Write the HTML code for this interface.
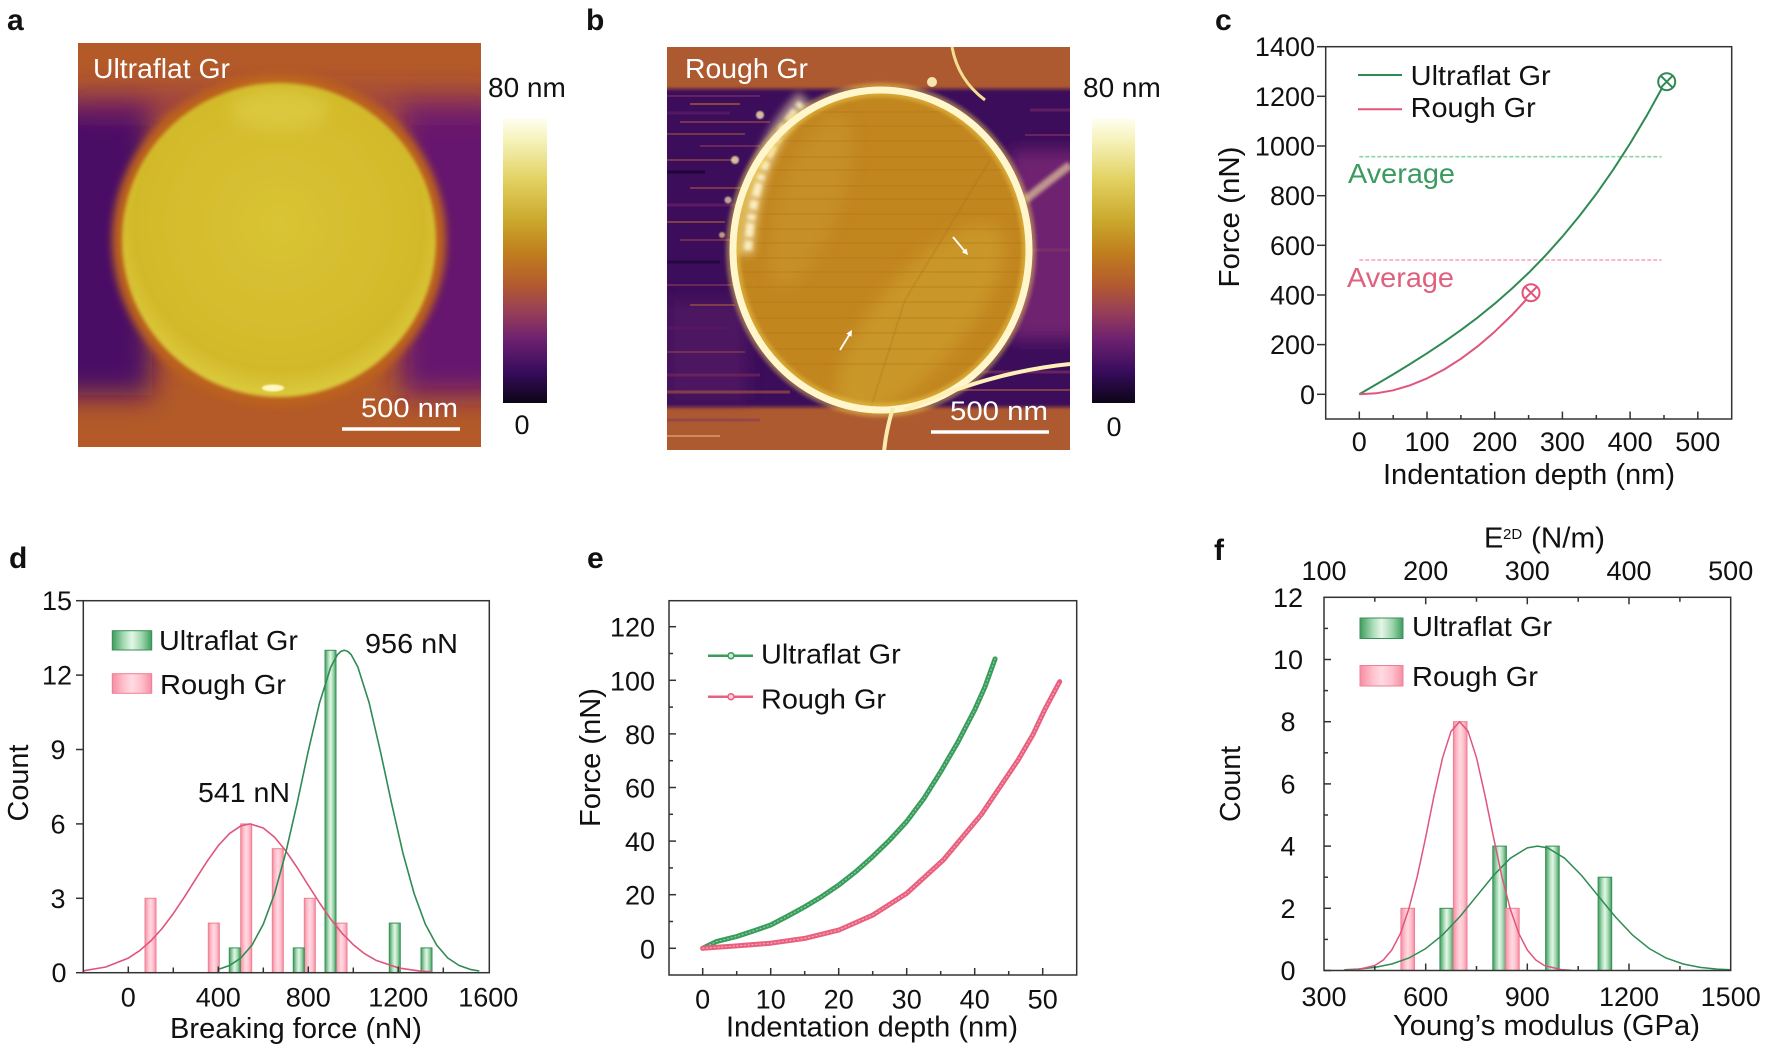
<!DOCTYPE html>
<html><head><meta charset="utf-8">
<style>html,body{margin:0;padding:0;background:#fff;}svg{display:block;}</style>
</head>
<body>
<svg xmlns="http://www.w3.org/2000/svg" width="1767" height="1053" viewBox="0 0 1767 1053" font-family="'Liberation Sans', Arial, sans-serif">
<defs>
 <linearGradient id="cbar" x1="0" y1="0" x2="0" y2="1">
  <stop offset="0" stop-color="#fffff2"/>
  <stop offset="0.08" stop-color="#f6f2b8"/>
  <stop offset="0.22" stop-color="#e2d060"/>
  <stop offset="0.36" stop-color="#caa82c"/>
  <stop offset="0.48" stop-color="#c07c1e"/>
  <stop offset="0.58" stop-color="#b45c2e"/>
  <stop offset="0.68" stop-color="#983e58"/>
  <stop offset="0.78" stop-color="#6c2070"/>
  <stop offset="0.89" stop-color="#380c5c"/>
  <stop offset="1" stop-color="#0c0418"/>
 </linearGradient>
 <linearGradient id="gbar" x1="0" y1="0" x2="1" y2="0">
  <stop offset="0" stop-color="#3f9c5e"/>
  <stop offset="0.3" stop-color="#a9dcb6"/>
  <stop offset="0.5" stop-color="#e4f6e8"/>
  <stop offset="0.75" stop-color="#9fd6ad"/>
  <stop offset="1" stop-color="#3f9c5e"/>
 </linearGradient>
 <linearGradient id="pbar" x1="0" y1="0" x2="1" y2="0">
  <stop offset="0" stop-color="#f48ea3"/>
  <stop offset="0.3" stop-color="#ffc2cd"/>
  <stop offset="0.5" stop-color="#ffdbe2"/>
  <stop offset="0.75" stop-color="#ffbfcb"/>
  <stop offset="1" stop-color="#f48ea3"/>
 </linearGradient>
 <radialGradient id="yelA" cx="0.5" cy="0.45" r="0.55">
  <stop offset="0" stop-color="#d9c434"/>
  <stop offset="0.85" stop-color="#d2b92a"/>
  <stop offset="1" stop-color="#dccb3e"/>
 </radialGradient>
 <filter id="bl14" x="-50%" y="-50%" width="200%" height="200%"><feGaussianBlur stdDeviation="14"/></filter>
 <filter id="bl8" x="-50%" y="-50%" width="200%" height="200%"><feGaussianBlur stdDeviation="8"/></filter>
 <filter id="bl4" x="-50%" y="-50%" width="200%" height="200%"><feGaussianBlur stdDeviation="4"/></filter>
 <filter id="bl2" x="-50%" y="-50%" width="200%" height="200%"><feGaussianBlur stdDeviation="1.8"/></filter>
 <filter id="bl1" x="-50%" y="-50%" width="200%" height="200%"><feGaussianBlur stdDeviation="0.9"/></filter>
 <clipPath id="clipA"><rect x="78" y="43" width="403" height="404"/></clipPath>
 <clipPath id="clipB"><rect x="667" y="47" width="403" height="403"/></clipPath>
 <clipPath id="clipBin"><ellipse cx="881" cy="250" rx="148" ry="160"/></clipPath>
</defs>

<rect x="0" y="0" width="1767" height="1053" fill="#ffffff"/>

<!-- Panel letters -->
<g font-weight="bold" font-size="30" fill="#111">
 <text x="7" y="30">a</text>
 <text x="586" y="30">b</text>
 <text x="1215" y="30">c</text>
 <text x="9" y="568">d</text>
 <text x="587" y="568">e</text>
 <text x="1214" y="560">f</text>
</g>

<!-- ============ Panel a: AFM image ============ -->
<g clip-path="url(#clipA)">
 <rect x="78" y="43" width="403" height="404" fill="#b35a28"/>
 <g filter="url(#bl14)">
  <rect x="40" y="100" width="112" height="295" fill="#4a0866"/>
  <rect x="400" y="100" width="110" height="295" fill="#66146e"/>
  <rect x="70" y="92" width="420" height="24" fill="#8a2e60" opacity="0.6"/>
 </g>
 <circle cx="279" cy="240" r="167" fill="#bc621f" filter="url(#bl4)"/>
 <circle cx="279" cy="240" r="157" fill="url(#yelA)" filter="url(#bl2)"/>
 <ellipse cx="279" cy="110" rx="50" ry="20" fill="#e2d450" opacity="0.5" filter="url(#bl8)"/>
 <ellipse cx="273" cy="388" rx="11" ry="3.5" fill="#fff8c0" filter="url(#bl1)"/>
</g>
<text x="93" y="78" font-size="28" fill="#ffffff" textLength="137" lengthAdjust="spacingAndGlyphs">Ultraflat Gr</text>
<line x1="342" y1="429" x2="460" y2="429" stroke="#ffffff" stroke-width="3.5"/>
<text x="361" y="417" font-size="27" fill="#ffffff" textLength="97" lengthAdjust="spacingAndGlyphs">500 nm</text>
<!-- colorbar a -->
<rect x="503" y="118" width="44" height="285" fill="url(#cbar)"/>
<text x="488" y="97" font-size="28" fill="#111">80 nm</text>
<text x="522" y="434" font-size="27" fill="#111" text-anchor="middle">0</text>

<!-- ============ Panel b: AFM image ============ -->
<g clip-path="url(#clipB)">
 <rect x="667" y="47" width="403" height="403" fill="#ad5a30"/>
 <rect x="650" y="89" width="440" height="318" fill="#3a0c5a" filter="url(#bl2)"/>
 <rect x="1010" y="150" width="80" height="190" fill="#6e2470" filter="url(#bl8)"/>
 <rect x="667" y="300" width="80" height="100" fill="#5a1a66" opacity="0.6" filter="url(#bl8)"/>
 <!-- left streaks -->
 <g stroke-linecap="butt">
  <line x1="667" y1="96" x2="760" y2="96" stroke="#7a2a60" stroke-width="2" opacity="0.7"/>
  <line x1="690" y1="104" x2="740" y2="104" stroke="#c06a30" stroke-width="2" opacity="0.6"/>
  <line x1="667" y1="113" x2="730" y2="113" stroke="#5a1a6a" stroke-width="3" opacity="0.8"/>
  <line x1="680" y1="122" x2="770" y2="122" stroke="#a04a50" stroke-width="2" opacity="0.6"/>
  <line x1="667" y1="134" x2="745" y2="134" stroke="#c87a30" stroke-width="1.5" opacity="0.5"/>
  <line x1="700" y1="146" x2="760" y2="146" stroke="#8a3a60" stroke-width="2" opacity="0.6"/>
  <line x1="667" y1="160" x2="735" y2="160" stroke="#b0603a" stroke-width="2" opacity="0.5"/>
  <line x1="667" y1="172" x2="705" y2="172" stroke="#1a0430" stroke-width="3" opacity="0.8"/>
  <line x1="690" y1="188" x2="750" y2="188" stroke="#a85040" stroke-width="2" opacity="0.6"/>
  <line x1="667" y1="205" x2="740" y2="205" stroke="#6a2068" stroke-width="3" opacity="0.7"/>
  <line x1="667" y1="222" x2="725" y2="222" stroke="#c07030" stroke-width="2" opacity="0.5"/>
  <line x1="680" y1="240" x2="745" y2="240" stroke="#9a4050" stroke-width="2" opacity="0.6"/>
  <line x1="667" y1="262" x2="720" y2="262" stroke="#200838" stroke-width="3" opacity="0.8"/>
  <line x1="667" y1="285" x2="740" y2="285" stroke="#8a3a5a" stroke-width="2" opacity="0.6"/>
  <line x1="690" y1="305" x2="735" y2="305" stroke="#b86a3a" stroke-width="2" opacity="0.5"/>
  <line x1="667" y1="328" x2="730" y2="328" stroke="#5a1868" stroke-width="3" opacity="0.6"/>
  <line x1="667" y1="352" x2="745" y2="352" stroke="#9a4a4a" stroke-width="2" opacity="0.5"/>
  <line x1="667" y1="375" x2="760" y2="375" stroke="#7a2a5a" stroke-width="3" opacity="0.6"/>
  <line x1="667" y1="392" x2="790" y2="392" stroke="#a85a3a" stroke-width="3" opacity="0.6"/>
  <line x1="1030" y1="110" x2="1070" y2="110" stroke="#7a2a6a" stroke-width="3" opacity="0.6"/>
  <line x1="1025" y1="135" x2="1070" y2="135" stroke="#9a3a60" stroke-width="2" opacity="0.5"/>
  <line x1="1030" y1="250" x2="1070" y2="250" stroke="#8a3a6a" stroke-width="3" opacity="0.5"/>
  <line x1="960" y1="372" x2="1070" y2="372" stroke="#7a3060" stroke-width="3" opacity="0.7"/>
  <line x1="940" y1="390" x2="1070" y2="390" stroke="#b05a40" stroke-width="2" opacity="0.6"/>
  <line x1="667" y1="420" x2="760" y2="420" stroke="#8a3a58" stroke-width="3" opacity="0.6"/>
  <line x1="667" y1="436" x2="720" y2="436" stroke="#e0a070" stroke-width="2" opacity="0.7"/>
 </g>
 <!-- interior -->
 <ellipse cx="881" cy="250" rx="148" ry="160" fill="#c2861f"/>
 <g clip-path="url(#clipBin)">
  <ellipse cx="920" cy="320" rx="45" ry="120" fill="#d0a432" opacity="0.55" transform="rotate(40 920 320)" filter="url(#bl8)"/>
  <ellipse cx="810" cy="200" rx="30" ry="90" fill="#cda035" opacity="0.4" transform="rotate(20 810 200)" filter="url(#bl8)"/>
  <g stroke="#a86a18" stroke-width="1.2" opacity="0.35">
   <line x1="720" y1="112" x2="1040" y2="112"/><line x1="720" y1="126" x2="1040" y2="126"/>
   <line x1="720" y1="141" x2="1040" y2="141"/><line x1="720" y1="157" x2="1040" y2="157"/>
   <line x1="720" y1="170" x2="1040" y2="170"/><line x1="720" y1="186" x2="1040" y2="186"/>
   <line x1="720" y1="199" x2="1040" y2="199"/><line x1="720" y1="214" x2="1040" y2="214"/>
   <line x1="720" y1="229" x2="1040" y2="229"/><line x1="720" y1="243" x2="1040" y2="243"/>
   <line x1="720" y1="258" x2="1040" y2="258"/><line x1="720" y1="272" x2="1040" y2="272"/>
   <line x1="720" y1="287" x2="1040" y2="287"/><line x1="720" y1="302" x2="1040" y2="302"/>
   <line x1="720" y1="318" x2="1040" y2="318"/><line x1="720" y1="333" x2="1040" y2="333"/>
   <line x1="720" y1="349" x2="1040" y2="349"/><line x1="720" y1="364" x2="1040" y2="364"/>
  </g>
  <path d="M870 410 L905 300 L990 160" stroke="#a87018" stroke-width="2" fill="none" opacity="0.25"/>
 </g>
 <!-- debris (fuzzy) -->
 <path d="M745 255 Q 752 150 805 98" stroke="#f6e6a8" stroke-width="18" fill="none" opacity="0.55" filter="url(#bl4)"/>
 <path d="M748 250 Q 754 155 803 102" stroke="#fff6d0" stroke-width="8" fill="none" stroke-dasharray="9 4 14 3 6 5" opacity="0.85" filter="url(#bl2)"/>
 <circle cx="735" cy="160" r="4" fill="#f8e8b0" opacity="0.8" filter="url(#bl1)"/>
 <circle cx="728" cy="200" r="3.5" fill="#f8e8b0" opacity="0.7" filter="url(#bl1)"/>
 <circle cx="760" cy="115" r="4" fill="#f8e8b0" opacity="0.8" filter="url(#bl1)"/>
 <circle cx="722" cy="235" r="3" fill="#f0d890" opacity="0.7" filter="url(#bl1)"/>
 <path d="M1025 200 Q 1050 180 1070 165" stroke="#f4e4a0" stroke-width="8" fill="none" opacity="0.6" filter="url(#bl2)"/>
 <!-- ring -->
 <ellipse cx="881" cy="250" rx="148" ry="160" fill="none" stroke="#f0d050" stroke-width="14" opacity="0.45" filter="url(#bl2)"/>
 <ellipse cx="881" cy="250" rx="148" ry="160" fill="none" stroke="#fff6cc" stroke-width="7"/>
 <!-- extra lines -->
 <path d="M952 47 Q 958 80 985 100" stroke="#f2e090" stroke-width="3" fill="none"/>
 <path d="M905 410 Q 990 372 1070 364" stroke="#fff0b8" stroke-width="4" fill="none"/>
 <path d="M893 408 Q 886 430 884 452" stroke="#f8eab0" stroke-width="4" fill="none"/>
 <circle cx="932" cy="82" r="5" fill="#fff4c0" opacity="0.9"/>
</g>
<!-- arrows -->
<line x1="953" y1="237" x2="965" y2="251.5" stroke="#ffffff" stroke-width="1.8"/>
<polygon points="968,255 961.9,252.3 966.5,248.5" fill="#ffffff"/>
<line x1="840" y1="350" x2="849.5" y2="334.5" stroke="#ffffff" stroke-width="1.8"/>
<polygon points="852,330 851.5,336.7 846.3,333.6" fill="#ffffff"/>
<text x="685" y="78" font-size="28" fill="#ffffff" textLength="123" lengthAdjust="spacingAndGlyphs">Rough Gr</text>
<line x1="931" y1="432" x2="1049" y2="432" stroke="#ffffff" stroke-width="3.5"/>
<text x="950" y="420" font-size="27" fill="#ffffff" textLength="98" lengthAdjust="spacingAndGlyphs">500 nm</text>
<!-- colorbar b -->
<rect x="1092" y="118" width="43" height="285" fill="url(#cbar)"/>
<text x="1083" y="97" font-size="28" fill="#111">80 nm</text>
<text x="1114" y="436" font-size="27" fill="#111" text-anchor="middle">0</text>

<!-- ============ Panel c ============ -->
<g>
 <line x1="1359.3" y1="156.7" x2="1661.7" y2="156.7" stroke="#8fd4a6" stroke-width="1.6" stroke-dasharray="4 2"/>
 <line x1="1359.3" y1="260" x2="1661.7" y2="260" stroke="#f4a2b6" stroke-width="1.6" stroke-dasharray="4 2"/>
 <path d="M1359.3,394.3 L1376.2,384.4 L1393.2,374.4 L1410.1,364.0 L1427.0,353.3 L1443.9,342.1 L1460.9,330.1 L1477.8,317.4 L1494.7,303.7 L1511.6,288.9 L1528.6,272.9 L1545.5,255.5 L1562.4,236.6 L1579.3,216.1 L1596.3,193.9 L1613.2,169.7 L1630.1,143.5 L1647.0,115.2 L1662.3,87.5" fill="none" stroke="#2f8a54" stroke-width="2" stroke-linejoin="round"/>
 <path d="M1359.3,394.3 L1376.2,393.3 L1393.2,390.3 L1410.1,385.3 L1427.0,378.4 L1443.9,369.6 L1460.9,358.8 L1477.8,346.2 L1494.7,331.7 L1511.6,315.4 L1526.6,299.3" fill="none" stroke="#e0557c" stroke-width="2" stroke-linejoin="round"/>
 <g stroke="#2f8a54" stroke-width="2" fill="none">
  <circle cx="1666.7" cy="81.7" r="8.5"/>
  <line x1="1660.7" y1="75.7" x2="1672.7" y2="87.7"/><line x1="1672.7" y1="75.7" x2="1660.7" y2="87.7"/>
 </g>
 <g stroke="#e0557c" stroke-width="2" fill="none">
  <circle cx="1531" cy="292.7" r="8.5"/>
  <line x1="1525" y1="286.7" x2="1537" y2="298.7"/><line x1="1537" y1="286.7" x2="1525" y2="298.7"/>
 </g>
 <rect x="1325.7" y="46.7" width="406" height="372.3" fill="none" stroke="#333" stroke-width="1.5"/>
 <g stroke="#333" stroke-width="1.5">
  <line x1="1317" y1="394.3" x2="1325.7" y2="394.3"/><line x1="1317" y1="344.6" x2="1325.7" y2="344.6"/>
  <line x1="1317" y1="295.0" x2="1325.7" y2="295.0"/><line x1="1317" y1="245.3" x2="1325.7" y2="245.3"/>
  <line x1="1317" y1="195.7" x2="1325.7" y2="195.7"/><line x1="1317" y1="146.0" x2="1325.7" y2="146.0"/>
  <line x1="1317" y1="96.3" x2="1325.7" y2="96.3"/><line x1="1317" y1="46.7" x2="1325.7" y2="46.7"/>
  <line x1="1359.3" y1="419" x2="1359.3" y2="411.5"/><line x1="1427.0" y1="419" x2="1427.0" y2="411.5"/>
  <line x1="1494.7" y1="419" x2="1494.7" y2="411.5"/><line x1="1562.4" y1="419" x2="1562.4" y2="411.5"/>
  <line x1="1630.1" y1="419" x2="1630.1" y2="411.5"/><line x1="1697.8" y1="419" x2="1697.8" y2="411.5"/>
  <line x1="1393.2" y1="419" x2="1393.2" y2="415"/><line x1="1460.9" y1="419" x2="1460.9" y2="415"/>
  <line x1="1528.6" y1="419" x2="1528.6" y2="415"/><line x1="1596.3" y1="419" x2="1596.3" y2="415"/>
  <line x1="1664.0" y1="419" x2="1664.0" y2="415"/>
 </g>
 <g font-size="27" fill="#111" text-anchor="end">
  <text x="1315" y="403.8">0</text><text x="1315" y="354.1">200</text>
  <text x="1315" y="304.5">400</text><text x="1315" y="254.8">600</text>
  <text x="1315" y="205.2">800</text><text x="1315" y="155.5">1000</text>
  <text x="1315" y="105.8">1200</text><text x="1315" y="56.2">1400</text>
 </g>
 <g font-size="27" fill="#111" text-anchor="middle">
  <text x="1359.3" y="451">0</text><text x="1427.0" y="451">100</text>
  <text x="1494.7" y="451">200</text><text x="1562.4" y="451">300</text>
  <text x="1630.1" y="451">400</text><text x="1697.8" y="451">500</text>
 </g>
 <text x="1529" y="484" font-size="29" fill="#111" text-anchor="middle" textLength="292" lengthAdjust="spacingAndGlyphs">Indentation depth (nm)</text>
 <text transform="translate(1239 217) rotate(-90)" font-size="29" fill="#111" text-anchor="middle" textLength="141" lengthAdjust="spacingAndGlyphs">Force (nN)</text>
 <line x1="1358" y1="75" x2="1402" y2="75" stroke="#2f8a54" stroke-width="2"/>
 <line x1="1358" y1="109.3" x2="1402" y2="109.3" stroke="#e0557c" stroke-width="2"/>
 <text x="1410.7" y="85" font-size="28" fill="#111" textLength="140" lengthAdjust="spacingAndGlyphs">Ultraflat Gr</text>
 <text x="1410.7" y="117" font-size="28" fill="#111" textLength="125" lengthAdjust="spacingAndGlyphs">Rough Gr</text>
 <text x="1348" y="183" font-size="28" fill="#3a9a5f" textLength="107" lengthAdjust="spacingAndGlyphs">Average</text>
 <text x="1347" y="287" font-size="28" fill="#e0607f" textLength="107" lengthAdjust="spacingAndGlyphs">Average</text>
</g>

<!-- ============ Panel d ============ -->
<g>
 <g stroke="#ee7f96" stroke-width="1" fill="url(#pbar)">
  <rect x="145" y="898.3" width="11" height="74.4"/>
  <rect x="208.3" y="923.1" width="11" height="49.6"/>
  <rect x="240.7" y="823.9" width="11" height="148.8"/>
  <rect x="272.3" y="848.7" width="11" height="124"/>
  <rect x="304.3" y="898.3" width="11" height="74.4"/>
  <rect x="336" y="923.1" width="11" height="49.6"/>
 </g>
 <g stroke="#3a8f58" stroke-width="1" fill="url(#gbar)">
  <rect x="229.3" y="947.9" width="11" height="24.8"/>
  <rect x="293.3" y="947.9" width="11" height="24.8"/>
  <rect x="325" y="650.3" width="11" height="322.4"/>
  <rect x="389.3" y="923.1" width="11" height="49.6"/>
  <rect x="421" y="947.9" width="11" height="24.8"/>
 </g>
 <path d="M83.3,970.8 L105.8,967.0 L128.3,958.1 L139.6,950.7 L150.8,940.9 L162.1,928.5 L173.3,913.6 L184.6,896.7 L195.8,878.9 L207.1,861.3 L218.3,845.6 L229.6,833.4 L240.8,825.9 L250.0,823.9 L263.3,828.0 L274.6,837.3 L285.8,850.9 L297.1,867.5 L308.3,885.3 L319.6,903.0 L330.8,919.2 L342.1,933.3 L353.3,944.7 L364.6,953.7 L375.8,960.2 L398.3,967.9 L420.8,971.2 L432.1,971.9" fill="none" stroke="#e0557c" stroke-width="1.6" stroke-linejoin="round"/>
 <path d="M218.3,969.4 L229.6,965.5 L240.8,958.0 L252.1,945.0 L263.3,924.1 L274.6,893.5 L285.8,852.6 L297.1,803.4 L308.3,750.9 L319.6,702.6 L330.8,666.9 L337.6,654.5 L340.9,651.4 L344.3,650.3 L347.7,651.4 L351.1,654.5 L357.8,666.9 L369.1,702.6 L380.3,750.9 L391.6,803.4 L402.8,852.6 L414.1,893.5 L425.3,924.1 L436.6,945.0 L447.8,958.0 L459.1,965.5 L470.3,969.4 L479.3,971.0" fill="none" stroke="#2f8a54" stroke-width="1.6" stroke-linejoin="round"/>
 <rect x="83.3" y="600.7" width="406" height="372" fill="none" stroke="#333" stroke-width="1.5"/>
 <g stroke="#333" stroke-width="1.5">
  <line x1="76" y1="972.7" x2="83.3" y2="972.7"/><line x1="76" y1="898.3" x2="83.3" y2="898.3"/>
  <line x1="76" y1="823.9" x2="83.3" y2="823.9"/><line x1="76" y1="749.5" x2="83.3" y2="749.5"/>
  <line x1="76" y1="675.1" x2="83.3" y2="675.1"/><line x1="76" y1="600.7" x2="83.3" y2="600.7"/>
  <line x1="128.3" y1="972.7" x2="128.3" y2="966.5"/><line x1="218.3" y1="972.7" x2="218.3" y2="966.5"/>
  <line x1="308.3" y1="972.7" x2="308.3" y2="966.5"/><line x1="398.3" y1="972.7" x2="398.3" y2="966.5"/>
  <line x1="173.3" y1="972.7" x2="173.3" y2="967.5"/><line x1="263.3" y1="972.7" x2="263.3" y2="967.5"/>
  <line x1="353.3" y1="972.7" x2="353.3" y2="967.5"/><line x1="443.3" y1="972.7" x2="443.3" y2="967.5"/>
 </g>
 <g font-size="27" fill="#111" text-anchor="middle">
  <text x="59" y="982.2">0</text><text x="58" y="907.8">3</text><text x="58" y="833.4">6</text>
  <text x="58" y="759">9</text><text x="57" y="684.6">12</text><text x="57" y="610.2">15</text>
  <text x="128.3" y="1006.7">0</text><text x="218.3" y="1006.7">400</text>
  <text x="308.3" y="1006.7">800</text><text x="398.3" y="1006.7">1200</text>
  <text x="488.3" y="1006.7">1600</text>
 </g>
 <text x="296" y="1038" font-size="29" fill="#111" text-anchor="middle" textLength="252" lengthAdjust="spacingAndGlyphs">Breaking force (nN)</text>
 <text transform="translate(28 783) rotate(-90)" font-size="29" fill="#111" text-anchor="middle" textLength="77" lengthAdjust="spacingAndGlyphs">Count</text>
 <rect x="112.3" y="630.7" width="39.4" height="19.3" fill="url(#gbar)" stroke="#3a8f58" stroke-width="1"/>
 <rect x="112.3" y="673.7" width="39.4" height="19.6" fill="url(#pbar)" stroke="#ee7f96" stroke-width="1"/>
 <text x="159" y="650" font-size="28" fill="#111" textLength="139" lengthAdjust="spacingAndGlyphs">Ultraflat Gr</text>
 <text x="160" y="694" font-size="28" fill="#111" textLength="126" lengthAdjust="spacingAndGlyphs">Rough Gr</text>
 <text x="365" y="653" font-size="28" fill="#111" textLength="93" lengthAdjust="spacingAndGlyphs">956 nN</text>
 <text x="198" y="802" font-size="28" fill="#111" textLength="92" lengthAdjust="spacingAndGlyphs">541 nN</text>
</g>

<!-- ============ Panel e ============ -->
<g>
 <g fill="none" stroke-linejoin="round" stroke-linecap="round">
  <path d="M702.7,948.3 L716.3,941.6 L736.7,936.5 L753.7,930.9 L770.7,925.0 L787.7,916.1 L804.7,906.8 L821.7,896.6 L838.7,885.1 L855.7,871.7 L872.7,856.6 L889.7,840.0 L906.7,821.5 L923.7,798.8 L940.7,771.7 L957.7,742.5 L974.7,709.8 L984.9,687.0 L995.1,658.9" stroke="#3a9c5c" stroke-width="5"/>
  <path d="M702.7,948.3 L716.3,941.6 L736.7,936.5 L753.7,930.9 L770.7,925.0 L787.7,916.1 L804.7,906.8 L821.7,896.6 L838.7,885.1 L855.7,871.7 L872.7,856.6 L889.7,840.0 L906.7,821.5 L923.7,798.8 L940.7,771.7 L957.7,742.5 L974.7,709.8 L984.9,687.0 L995.1,658.9" stroke="#86cc9c" stroke-width="1.2" stroke-dasharray="1.2 2.6"/>
  <path d="M702.7,948.3 L736.7,945.9 L770.7,943.2 L804.7,938.4 L838.7,930.1 L872.7,915.1 L906.7,893.4 L943.4,859.9 L981.5,814.3 L1018.2,759.9 L1033.2,734.1 L1044.7,709.8 L1059.7,681.6" stroke="#e8607e" stroke-width="5"/>
  <path d="M702.7,948.3 L736.7,945.9 L770.7,943.2 L804.7,938.4 L838.7,930.1 L872.7,915.1 L906.7,893.4 L943.4,859.9 L981.5,814.3 L1018.2,759.9 L1033.2,734.1 L1044.7,709.8 L1059.7,681.6" stroke="#f6a4b4" stroke-width="1.2" stroke-dasharray="1.2 2.6"/>
 </g>
 <rect x="669" y="600.7" width="407.7" height="374.3" fill="none" stroke="#333" stroke-width="1.5"/>
 <g stroke="#333" stroke-width="1.5">
  <line x1="669" y1="948.3" x2="676" y2="948.3"/><line x1="669" y1="894.7" x2="676" y2="894.7"/>
  <line x1="669" y1="841.1" x2="676" y2="841.1"/><line x1="669" y1="787.5" x2="676" y2="787.5"/>
  <line x1="669" y1="733.9" x2="676" y2="733.9"/><line x1="669" y1="680.3" x2="676" y2="680.3"/>
  <line x1="669" y1="626.7" x2="676" y2="626.7"/>
  <line x1="669" y1="921.5" x2="673" y2="921.5"/><line x1="669" y1="867.9" x2="673" y2="867.9"/>
  <line x1="669" y1="814.3" x2="673" y2="814.3"/><line x1="669" y1="760.7" x2="673" y2="760.7"/>
  <line x1="669" y1="707.1" x2="673" y2="707.1"/><line x1="669" y1="653.5" x2="673" y2="653.5"/>
  <line x1="702.7" y1="975" x2="702.7" y2="968"/><line x1="770.7" y1="975" x2="770.7" y2="968"/>
  <line x1="838.7" y1="975" x2="838.7" y2="968"/><line x1="906.7" y1="975" x2="906.7" y2="968"/>
  <line x1="974.7" y1="975" x2="974.7" y2="968"/><line x1="1042.7" y1="975" x2="1042.7" y2="968"/>
  <line x1="736.7" y1="975" x2="736.7" y2="971"/><line x1="804.7" y1="975" x2="804.7" y2="971"/>
  <line x1="872.7" y1="975" x2="872.7" y2="971"/><line x1="940.7" y1="975" x2="940.7" y2="971"/>
  <line x1="1008.7" y1="975" x2="1008.7" y2="971"/>
 </g>
 <g font-size="27" fill="#111" text-anchor="end">
  <text x="655" y="958.3">0</text><text x="655" y="904.7">20</text><text x="655" y="851.1">40</text>
  <text x="655" y="797.5">60</text><text x="655" y="743.9">80</text><text x="655" y="690.3">100</text>
  <text x="655" y="636.7">120</text>
 </g>
 <g font-size="27" fill="#111" text-anchor="middle">
  <text x="702.7" y="1008.3">0</text><text x="770.7" y="1008.3">10</text><text x="838.7" y="1008.3">20</text>
  <text x="906.7" y="1008.3">30</text><text x="974.7" y="1008.3">40</text><text x="1042.7" y="1008.3">50</text>
 </g>
 <text x="872" y="1036.7" font-size="29" fill="#111" text-anchor="middle" textLength="292" lengthAdjust="spacingAndGlyphs">Indentation depth (nm)</text>
 <text transform="translate(600 757.5) rotate(-90)" font-size="29" fill="#111" text-anchor="middle" textLength="139" lengthAdjust="spacingAndGlyphs">Force (nN)</text>
 <line x1="708" y1="655.7" x2="753" y2="655.7" stroke="#3a9c5c" stroke-width="2.5"/>
 <circle cx="731" cy="655.7" r="3" fill="#c8ecd0" stroke="#3a9c5c" stroke-width="1.5"/>
 <line x1="708" y1="696.7" x2="753" y2="696.7" stroke="#e8607e" stroke-width="2.5"/>
 <circle cx="731" cy="696.7" r="3" fill="#fcd0d8" stroke="#e8607e" stroke-width="1.5"/>
 <text x="761" y="663.3" font-size="28" fill="#111" textLength="139.7" lengthAdjust="spacingAndGlyphs">Ultraflat Gr</text>
 <text x="761" y="708.3" font-size="28" fill="#111" textLength="125" lengthAdjust="spacingAndGlyphs">Rough Gr</text>
</g>

<!-- ============ Panel f ============ -->
<g>
 <g stroke="#3a8f58" stroke-width="1" fill="url(#gbar)">
  <rect x="1439.9" y="908.3" width="13.6" height="62.2"/>
  <rect x="1492.8" y="846.1" width="13.6" height="124.4"/>
  <rect x="1545.6" y="846.1" width="13.6" height="124.4"/>
  <rect x="1598.1" y="877.2" width="13.6" height="93.3"/>
 </g>
 <g stroke="#ee7f96" stroke-width="1" fill="url(#pbar)">
  <rect x="1400.9" y="908.3" width="13.6" height="62.2"/>
  <rect x="1453.4" y="721.7" width="13.6" height="248.8"/>
  <rect x="1505.6" y="908.3" width="13.6" height="62.2"/>
 </g>
 <path d="M1344.3,969.8 L1357.9,969.1 L1374.8,967.4 L1391.8,964.0 L1408.7,958.1 L1425.7,948.6 L1442.6,934.9 L1459.6,917.0 L1476.5,896.3 L1493.5,875.5 L1510.4,858.2 L1527.3,847.9 L1537.5,846.1 L1547.7,847.9 L1564.6,858.2 L1581.6,875.5 L1598.5,896.3 L1615.5,917.0 L1632.4,934.9 L1649.3,948.6 L1666.3,958.1 L1683.2,964.0 L1700.2,967.4 L1717.1,969.1 L1730.7,969.8" fill="none" stroke="#2f8a54" stroke-width="1.5" stroke-linejoin="round"/>
 <path d="M1344.3,970.3 L1357.9,969.6 L1374.8,965.5 L1383.3,960.0 L1391.8,950.0 L1400.3,933.7 L1408.7,909.4 L1417.2,876.7 L1425.7,837.2 L1434.1,795.4 L1442.6,757.7 L1451.1,731.2 L1459.6,721.7 L1468.0,731.2 L1476.5,757.7 L1485.0,795.4 L1493.5,837.2 L1501.9,876.7 L1510.4,909.4 L1518.9,933.7 L1527.3,950.0 L1535.8,960.0 L1544.3,965.5 L1561.2,969.6 L1571.4,970.2" fill="none" stroke="#e0557c" stroke-width="1.5" stroke-linejoin="round"/>
 <rect x="1324" y="597.3" width="406.7" height="373.2" fill="none" stroke="#333" stroke-width="1.5"/>
 <g stroke="#333" stroke-width="1.5">
  <line x1="1324" y1="970.5" x2="1331" y2="970.5"/><line x1="1324" y1="908.3" x2="1331" y2="908.3"/>
  <line x1="1324" y1="846.1" x2="1331" y2="846.1"/><line x1="1324" y1="783.9" x2="1331" y2="783.9"/>
  <line x1="1324" y1="721.7" x2="1331" y2="721.7"/><line x1="1324" y1="659.5" x2="1331" y2="659.5"/>
  <line x1="1324" y1="939.4" x2="1328" y2="939.4"/><line x1="1324" y1="877.2" x2="1328" y2="877.2"/>
  <line x1="1324" y1="815.0" x2="1328" y2="815.0"/><line x1="1324" y1="752.8" x2="1328" y2="752.8"/>
  <line x1="1324" y1="690.6" x2="1328" y2="690.6"/><line x1="1324" y1="628.4" x2="1328" y2="628.4"/>
  <line x1="1425.7" y1="970.5" x2="1425.7" y2="963.5"/><line x1="1527.3" y1="970.5" x2="1527.3" y2="963.5"/>
  <line x1="1629.0" y1="970.5" x2="1629.0" y2="963.5"/>
  <line x1="1374.8" y1="970.5" x2="1374.8" y2="966"/><line x1="1476.5" y1="970.5" x2="1476.5" y2="966"/>
  <line x1="1578.2" y1="970.5" x2="1578.2" y2="966"/><line x1="1679.9" y1="970.5" x2="1679.9" y2="966"/>
  <line x1="1425.7" y1="597.3" x2="1425.7" y2="604.3"/><line x1="1527.3" y1="597.3" x2="1527.3" y2="604.3"/>
  <line x1="1629.0" y1="597.3" x2="1629.0" y2="604.3"/>
  <line x1="1374.8" y1="597.3" x2="1374.8" y2="601.8"/><line x1="1476.5" y1="597.3" x2="1476.5" y2="601.8"/>
  <line x1="1578.2" y1="597.3" x2="1578.2" y2="601.8"/><line x1="1679.9" y1="597.3" x2="1679.9" y2="601.8"/>
 </g>
 <g font-size="27" fill="#111" text-anchor="middle">
  <text x="1288" y="980">0</text><text x="1288" y="917.8">2</text><text x="1288" y="855.6">4</text>
  <text x="1288" y="793.4">6</text><text x="1288" y="731.2">8</text><text x="1288" y="669">10</text>
  <text x="1288" y="606.8">12</text>
  <text x="1324" y="1006">300</text><text x="1425.7" y="1006">600</text><text x="1527.3" y="1006">900</text>
  <text x="1629" y="1006">1200</text><text x="1730.7" y="1006">1500</text>
  <text x="1324" y="580">100</text><text x="1425.7" y="580">200</text><text x="1527.3" y="580">300</text>
  <text x="1629" y="580">400</text><text x="1730.7" y="580">500</text>
 </g>
 <text x="1546.5" y="1035" font-size="29" fill="#111" text-anchor="middle" textLength="307" lengthAdjust="spacingAndGlyphs">Young’s modulus (GPa)</text>
 <text x="1484" y="547.5" font-size="29" fill="#111">E</text>
 <text x="1503" y="539" font-size="15" fill="#111">2D</text>
 <text x="1531" y="547.5" font-size="29" fill="#111" textLength="74" lengthAdjust="spacingAndGlyphs">(N/m)</text>
 <text transform="translate(1240 784) rotate(-90)" font-size="29" fill="#111" text-anchor="middle" textLength="76" lengthAdjust="spacingAndGlyphs">Count</text>
 <rect x="1360" y="618" width="43" height="20.5" fill="url(#gbar)" stroke="#3a8f58" stroke-width="1"/>
 <rect x="1360" y="665.5" width="43" height="20.5" fill="url(#pbar)" stroke="#ee7f96" stroke-width="1"/>
 <text x="1412" y="636" font-size="28" fill="#111" textLength="140" lengthAdjust="spacingAndGlyphs">Ultraflat Gr</text>
 <text x="1412" y="686" font-size="28" fill="#111" textLength="126" lengthAdjust="spacingAndGlyphs">Rough Gr</text>
</g>
</svg>
</body>
</html>
